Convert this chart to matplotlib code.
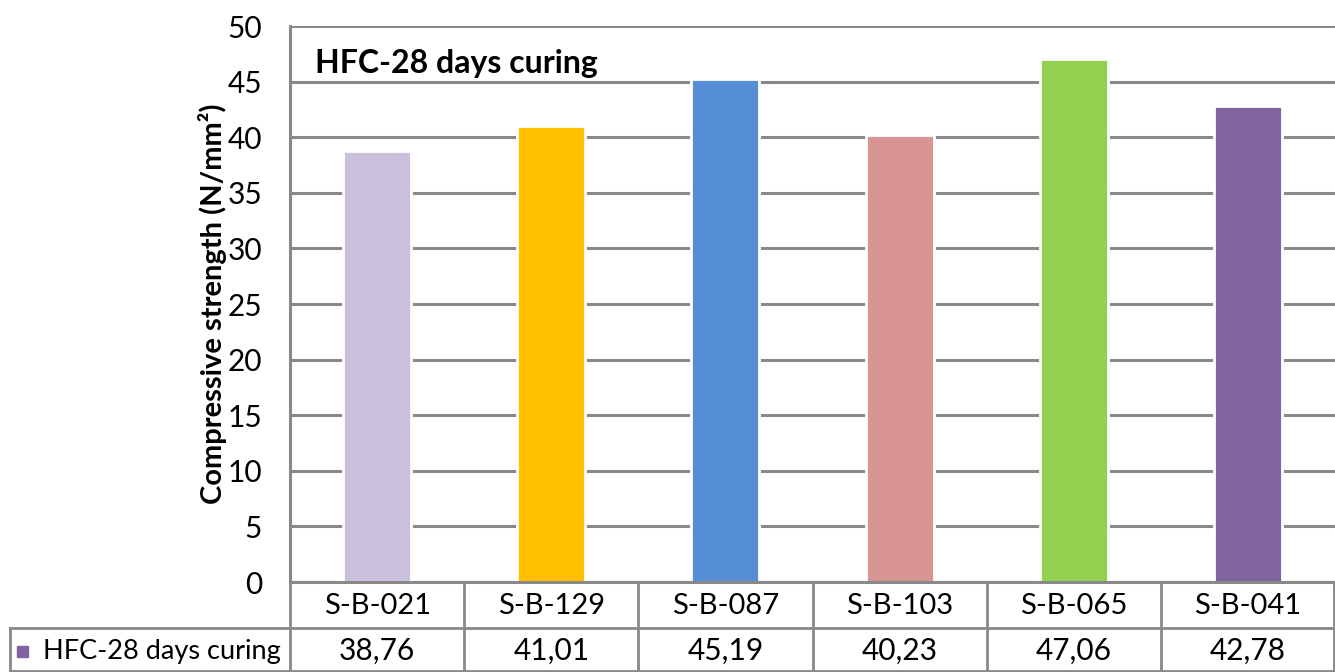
import matplotlib
matplotlib.use("Agg")
import matplotlib.pyplot as plt
from matplotlib.lines import Line2D
from matplotlib.patches import Rectangle
import matplotlib.patheffects as pe

plt.rcParams['font.family'] = ['Lato', 'DejaVu Sans']

# Data
specimens = ["S-B-021", "S-B-129", "S-B-087", "S-B-103", "S-B-065", "S-B-041"]
strength = [38.76, 41.01, 45.19, 40.23, 47.06, 42.78]
value_labels = ["38,76", "41,01", "45,19", "40,23", "47,06", "42,78"]
bar_colors = ["#CAC0DC", "#FFC000", "#558ED5", "#D99594", "#92D050", "#8064A2"]
series_name = "HFC-28 days curing"
y_ticks = [0, 5, 10, 15, 20, 25, 30, 35, 40, 45, 50]

W, H = 1335, 672
fig = plt.figure(figsize=(W / 100, H / 100), dpi=100)

# plot area in pixels
left, right, top, bottom = 290, 1335, 26, 582
ax = fig.add_axes([left / W, 1 - bottom / H, (right - left) / W, (bottom - top) / H])

grid_col = "#898989"
x = list(range(len(specimens)))
ax.bar(x, strength, width=0.39, color=bar_colors, edgecolor="white", linewidth=2.0,
       zorder=3,
       path_effects=[pe.SimplePatchShadow(offset=(1.5, -1.5), shadow_rgbFace="#999999", alpha=0.35),
                     pe.Normal()])

ax.set_xlim(-0.5, len(specimens) - 0.5)
ax.set_ylim(0, 50)
ax.set_yticks(y_ticks)
ax.set_xticks([])
ax.tick_params(axis="y", length=0, pad=20, labelsize=21.5, labelcolor="#000000")
ax.grid(axis="y", color=grid_col, linewidth=2.2, zorder=0)
for s in ["top", "right", "bottom"]:
    ax.spines[s].set_visible(False)
ax.spines["left"].set_color(grid_col)
ax.spines["left"].set_linewidth(2.2)

ax.set_ylabel("Compressive strength (N/mm²)", fontsize=21, fontweight="bold", labelpad=0)
ax.text(25 / (right - left), 1 - (63 - top) / (bottom - top), series_name,
        transform=ax.transAxes, fontsize=23, fontweight="bold", va="center", ha="left")

# data table below the plot (figure pixel coordinates)
def fx(px):
    return px / W

def fy(py):
    return 1 - py / H

col_edges = [left + i * (right - left) / len(specimens) for i in range(len(specimens) + 1)]
row1_top, row1_bot, row2_bot = bottom, 628, 672
legend_left = 10

lines = []
# horizontal lines
lines.append(((left, right), (row1_bot, row1_bot)))
lines.append(((legend_left, left), (row1_bot, row1_bot)))
lines.append(((legend_left, right), (row2_bot - 1, row2_bot - 1)))
# vertical lines
for cx in col_edges:
    lines.append(((cx, cx), (row1_top, row2_bot)))
lines.append(((legend_left, legend_left), (row1_bot, row2_bot)))
lines.append(((right - 1, right - 1), (row1_top, row2_bot)))
for xs, ys in lines:
    fig.add_artist(Line2D([fx(v) for v in xs], [fy(v) for v in ys],
                          color=grid_col, linewidth=2.0, solid_capstyle="projecting"))
# top border of table
fig.add_artist(Line2D([fx(left), fx(right)], [fy(bottom), fy(bottom)],
                      color=grid_col, linewidth=2.2))

for i, (name, val) in enumerate(zip(specimens, value_labels)):
    cx = (col_edges[i] + col_edges[i + 1]) / 2
    fig.text(fx(cx), fy((row1_top + row1_bot) / 2 + 1), name, fontsize=21,
             ha="center", va="center")
    fig.text(fx(cx), fy((row1_bot + row2_bot) / 2 + 1), val, fontsize=21.5,
             ha="center", va="center")

# legend key inside the table
fig.add_artist(Rectangle((fx(17), fy(657)), 11 / W, 11 / H, color=bar_colors[-1],
                         transform=fig.transFigure))
fig.text(fx(43), fy((row1_bot + row2_bot) / 2 + 1), series_name, fontsize=19.5,
         ha="left", va="center")

fig.savefig("out.png", dpi=100, facecolor="white")
